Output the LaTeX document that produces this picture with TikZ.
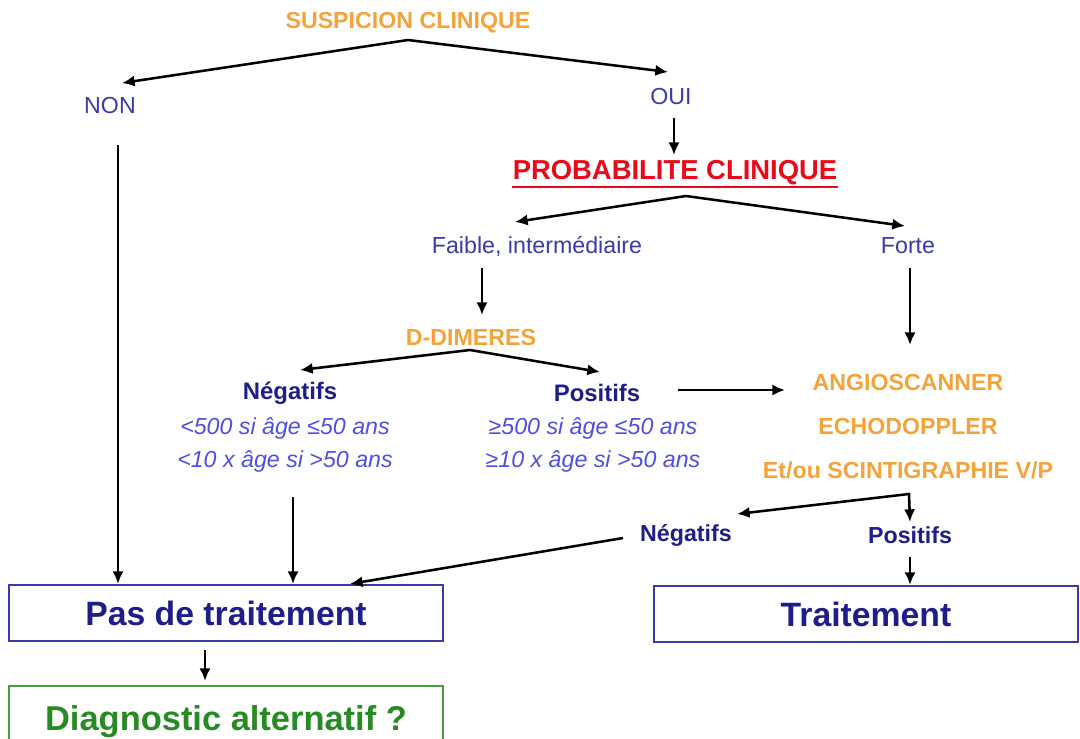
\documentclass[tikz,border=0pt]{standalone}
\usepackage{fontspec}
\setmainfont{Liberation Sans}
\usetikzlibrary{arrows.meta}

\definecolor{susporange}{RGB}{244,163,58}
\definecolor{probred}{RGB}{232,10,24}
\definecolor{choixblue}{RGB}{58,58,168}
\definecolor{resnavy}{RGB}{30,30,138}
\definecolor{seuilblue}{RGB}{78,78,228}
\definecolor{diaggreen}{RGB}{40,138,34}

\tikzset{
  cnx/.style={line width=1.8pt,black},
  orangetxt/.style={text=susporange,font=\fontsize{16.5}{20}\selectfont\bfseries},
  bluetxt/.style={text=choixblue,font=\fontsize{16.5}{20}\selectfont},
  navytxt/.style={text=resnavy,font=\fontsize{17}{20}\selectfont\bfseries},
  seuiltxt/.style={text=seuilblue,font=\fontsize{16.5}{20}\selectfont\itshape},
  probtxt/.style={text=probred,inner sep=0pt,font=\fontsize{19.5}{23}\selectfont\bfseries},
  decision/.style={draw=choixblue,line width=1.5pt,text=resnavy,minimum width=10.85cm,
    minimum height=1.4cm,font=\fontsize{24}{28}\selectfont\bfseries},
  diagbox/.style={draw=diaggreen!85!white,line width=1.5pt,text=diaggreen,minimum width=10.85cm,
    minimum height=1.8cm,font=\fontsize{24.5}{28}\selectfont\bfseries}
}

\begin{document}
\begin{tikzpicture}[x=0.025cm,y=-0.025cm,>={Latex[length=9pt,width=8pt]}]
\useasboundingbox (0,0) rectangle (1080,738);

% texts
\node[orangetxt] (susp) at (408,23) {SUSPICION CLINIQUE};
\node[bluetxt] (non) at (110,106) {NON};
\node[bluetxt] (oui) at (671,97) {OUI};
\node[probtxt] (proba) at (675,173) {PROBABILITE CLINIQUE};
\node[bluetxt] (faible) at (537,246) {Faible, intermédiaire};
\node[bluetxt] (forte) at (908,246) {Forte};
\node[orangetxt] (ddim) at (471,338) {D-DIMERES};
\node[navytxt] (negdd) at (290,393) {Négatifs};
\node[navytxt] (posdd) at (597,393) {Positifs};
\node[seuiltxt] (negsa) at (285,428) {<500 si âge ≤50 ans};
\node[seuiltxt] (negsb) at (285,461) {<10 x âge si >50 ans};
\node[seuiltxt] (possa) at (593,428) {≥500 si âge ≤50 ans};
\node[seuiltxt] (possb) at (593,461) {≥10 x âge si >50 ans};
\node[orangetxt] (angio) at (908,383) {ANGIOSCANNER};
\node[orangetxt] (echo) at (908,427) {ECHODOPPLER};
\node[orangetxt] (scinti) at (908,470) {Et/ou SCINTIGRAPHIE V/P};
\node[navytxt,font=\fontsize{16.5}{20}\selectfont\bfseries] (negimg) at (686,535) {Négatifs};
\node[navytxt,font=\fontsize{16.5}{20}\selectfont\bfseries] (posimg) at (910,535) {Positifs};

% boxes
\node[decision] (pasttt) at (226,613) {Pas de traitement};
\node[decision,minimum width=10.6cm] (ttt) at (866,614) {Traitement};
\node[diagbox] (diag) at (226,722) {Diagnostic alternatif ?};

\draw[probred,line width=1.5pt] ([yshift=-1pt]proba.south west) -- ([yshift=-1pt]proba.south east);

% arrows
\coordinate (suspfork) at (408,40);
\draw[cnx,<->] ([shift={(12,-23)}]non.center) -- (suspfork) -- ([shift={(-3,-25)}]oui.center);
\draw[cnx,->] ([shift={(3,21)}]oui.center) -- ([shift={(-1,-18)}]proba.center);

\coordinate (probafork) at (686,196);
\draw[cnx,<->] ([shift={(-22,-24)}]faible.center) -- (probafork) -- ([shift={(-3,-20)}]forte.center);
\draw[cnx,->] ([shift={(-55,22)}]faible.center) -- ([shift={(11,-23)}]ddim.center);

\coordinate (ddimfork) at (470,350);
\draw[cnx,<->] ([shift={(10,-23)}]negdd.center) -- (ddimfork) -- ([shift={(3,-21)}]posdd.center);
\draw[cnx,->] ([shift={(81,-3)}]posdd.center) -- ([shift={(-123,7)}]angio.center);
\draw[cnx,->] ([shift={(2,22)}]forte.center) -- ([shift={(2,-38)}]angio.center);

\coordinate (imgfork) at (909,494);
\draw[cnx,<->] ([shift={(51,-21)}]negimg.center) -- (imgfork) -- ([shift={(0,-13)}]posimg.center);

\draw[cnx,->] ([shift={(8,39)}]non.center) -- ([shift={(-108,0)}]pasttt.north);
\draw[cnx,->] ([shift={(8,36)}]negsb.center) -- ([shift={(67,0)}]pasttt.north);
\draw[cnx,->] ([shift={(-63,3)}]negimg.center) -- ([shift={(124,0)}]pasttt.north);
\draw[cnx,->] ([shift={(0,22)}]posimg.center) -- ([shift={(44,0)}]ttt.north);
\draw[cnx,->] ([shift={(-21,8)}]pasttt.south) -- ([shift={(-21,-4)}]diag.north);

\end{tikzpicture}
\end{document}
